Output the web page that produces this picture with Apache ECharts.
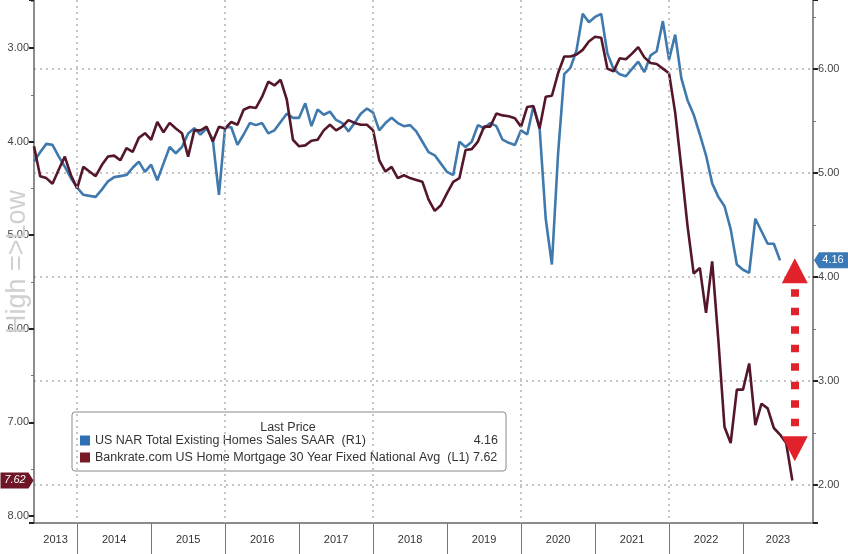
<!DOCTYPE html>
<html><head><meta charset="utf-8">
<script src="https://cdn.jsdelivr.net/npm/echarts@6/dist/echarts.min.js"></script>
<style>html,body{margin:0;padding:0;background:#fff}#c{width:848px;height:554px}</style>
</head><body><div id="c"></div>
<script>
// ---- data (monthly, first point June 2013) ----
const firstYear = 2013, firstMonth = 6;
const yearLabels = ['2013','2014','2015','2016','2017','2018','2019','2020','2021','2022','2023'];
const tickYears = [2014,2015,2016,2017,2018,2019,2020,2021,2022,2023];
const gridYears = [2014,2016,2018,2020,2022];
const blueName = 'US NAR Total Existing Homes Sales SAAR';
const maroonName = 'Bankrate.com US Home Mortgage 30 Year Fixed National Avg';
// Bankrate 30Y mortgage rate (left axis, inverted)
const mortgageRate = [
  4.05,4.37,4.39,4.45,4.30,4.16,4.36,
  4.50,4.27,4.32,4.37,4.25,4.16,4.15,4.20,4.07,4.11,3.96,3.91,
  3.98,3.79,3.90,3.80,3.86,3.91,4.16,3.88,3.88,3.84,4.00,3.84,
  3.86,3.79,3.82,3.66,3.63,3.64,3.52,3.36,3.40,3.34,3.55,3.98,
  4.05,4.04,3.99,3.98,3.88,3.82,3.88,3.84,3.77,3.80,3.82,3.82,
  3.88,4.20,4.32,4.27,4.39,4.36,4.39,4.41,4.43,4.62,4.74,4.68,
  4.55,4.43,4.39,4.09,4.08,4.00,3.84,3.84,3.70,3.72,3.73,3.75,
  3.84,3.63,3.62,3.86,3.52,3.51,3.27,3.09,3.09,3.07,3.02,2.93,
  2.88,2.89,3.22,3.25,3.11,3.12,3.06,2.99,3.10,3.16,3.17,3.22,
  3.27,3.69,4.28,4.90,5.41,5.35,5.83,5.28,6.12,7.05,7.22,6.65,
  6.65,6.37,7.03,6.80,6.85,7.06,7.13,7.22,7.62
];
// NAR existing home sales SAAR, millions (right axis)
const homeSales = [
  5.11,5.20,5.28,5.27,5.16,5.06,4.95,
  4.86,4.79,4.78,4.77,4.84,4.92,4.96,4.97,4.98,5.05,5.11,5.01,
  5.08,4.93,5.09,5.25,5.19,5.25,5.38,5.43,5.37,5.43,5.32,4.79,
  5.44,5.44,5.27,5.37,5.48,5.46,5.48,5.38,5.41,5.49,5.57,5.53,
  5.53,5.67,5.45,5.61,5.56,5.59,5.51,5.48,5.40,5.48,5.57,5.62,
  5.58,5.41,5.48,5.53,5.48,5.45,5.46,5.40,5.30,5.20,5.17,5.09,
  5.01,4.98,5.30,5.25,5.30,5.46,5.43,5.48,5.45,5.32,5.29,5.27,
  5.41,5.37,5.64,5.44,4.56,4.12,5.18,5.95,6.01,6.18,6.53,6.45,
  6.50,6.53,6.15,6.00,5.95,5.93,6.00,6.07,5.97,6.13,6.17,6.46,
  6.09,6.33,5.91,5.70,5.56,5.37,5.17,4.90,4.77,4.68,4.46,4.12,
  4.07,4.04,4.56,4.44,4.32,4.32,4.16
];
const lastHomeSales = 4.16;
const lastMortgage = 7.62;
// annotation arrow (right-axis units)
const arrowTime = 2023.70, arrowTop = 4.06, arrowBottom = 2.35;

// ---- build ----
const x0 = firstYear + (firstMonth - 1) / 12;
const toPairs = arr => arr.map((v, i) => [x0 + i / 12, v]);
const xMin = x0, xMax = 2023.946;
const labelPos = yearLabels.map((y, i) => {
  const a = Math.max(+y, xMin), b = Math.min(+y + 1, xMax);
  return (a + b) / 2;
});
const FONT = "'Liberation Sans', Arial, sans-serif";
const dotted = { color: '#b3b3b3', width: 1.5, type: [2, 4] };
const isInt = v => Math.abs(v - Math.round(v)) < 1e-6;

const chart = echarts.init(document.getElementById('c'));
chart.setOption({
  animation: false,
  backgroundColor: '#fff',
  textStyle: { fontFamily: FONT },
  grid: { left: 34, right: 35, top: 0, bottom: 31 },
  legend: {
    left: 72, top: 412, orient: 'vertical',
    data: [
      { name: blueName, itemStyle: { color: '#2f70b5' } },
      { name: maroonName, itemStyle: { color: '#761b26' } }
    ],
    icon: 'rect', itemWidth: 10, itemHeight: 10, itemGap: 2,
    padding: [21, 8, 6, 8],
    backgroundColor: '#fff', borderColor: '#8a8a8a', borderWidth: 1, borderRadius: 3,
    selectedMode: false,
    formatter: name => name === blueName
      ? '{n|' + name + '  (R1)}{v|' + lastHomeSales.toFixed(2) + '}'
      : '{m|' + name + '  (L1) ' + lastMortgage.toFixed(2) + '}',
    textStyle: {
      fontFamily: FONT, fontSize: 12.5, color: '#333', lineHeight: 15,
      rich: {
        n: { width: 378, fontSize: 12.5, color: '#333' },
        v: { width: 25, align: 'right', fontSize: 12.5, color: '#333' },
        m: { fontSize: 12.5, color: '#333' }
      }
    }
  },
  graphic: [
    { type: 'text', x: 288, y: 428, z: 100, style: { text: 'Last Price', fill: '#333', font: '12.5px ' + FONT, textAlign: 'center', textVerticalAlign: 'middle' } },
    { type: 'text', x: 18, y: 262, rotation: Math.PI / 2, z: 100, style: { text: 'High =>Low', fill: '#d0d0d0', font: '27px ' + FONT, textAlign: 'center', textVerticalAlign: 'middle' } }
  ],
  xAxis: {
    type: 'value', min: xMin, max: xMax,
    axisLine: { show: true, lineStyle: { color: '#666', width: 1.5 } },
    axisTick: { show: true, customValues: tickYears, length: 31, lineStyle: { color: '#777', width: 1 } },
    axisLabel: { customValues: labelPos, formatter: v => String(Math.floor(v + 1e-6)), margin: 11, color: '#333', fontSize: 11, fontFamily: FONT },
    splitLine: { show: false }
  },
  yAxis: [
    {
      type: 'value', position: 'left', inverse: true, min: 2.487, max: 8.075,
      axisLine: { show: true, onZero: false, lineStyle: { color: '#666', width: 1.5 } },
      axisTick: { show: true, length: 5, lineStyle: { color: '#222', width: 2 } },
      minorTick: { show: true, splitNumber: 2, length: 3, lineStyle: { color: '#777' } },
      axisLabel: { formatter: v => isInt(v) ? v.toFixed(2) : '', margin: 5, color: '#444', fontSize: 11, fontFamily: FONT },
      splitLine: { show: false }
    },
    {
      type: 'value', position: 'right', min: 1.635, max: 6.663,
      axisLine: { show: true, onZero: false, lineStyle: { color: '#666', width: 1.5 } },
      axisTick: { show: true, length: 5, lineStyle: { color: '#222', width: 2 } },
      minorTick: { show: true, splitNumber: 2, length: 3, lineStyle: { color: '#777' } },
      axisLabel: { formatter: v => isInt(v) ? v.toFixed(2) : '', margin: 5, color: '#444', fontSize: 11, fontFamily: FONT },
      splitLine: { show: true, showMinLine: false, showMaxLine: false, lineStyle: dotted }
    }
  ],
  series: [
    {
      name: 'grid', type: 'line', data: [], z: 1, silent: true,
      markLine: { silent: true, symbol: 'none', label: { show: false }, lineStyle: dotted, data: gridYears.map(y => ({ xAxis: y })) }
    },
    {
      name: blueName, type: 'line', yAxisIndex: 1, data: toPairs(homeSales), showSymbol: false, z: 3,
      lineStyle: { color: '#3f79ad', width: 2.6 }, itemStyle: { color: '#3f79ad' },
      markPoint: {
        silent: true,
        data: [{ coord: [xMax, lastHomeSales], symbol: 'path://M5,0 L34,0 L34,16 L5,16 L0,8 Z', symbolSize: [34, 16], symbolOffset: [18, 0],
          itemStyle: { color: '#3b78b6' }, label: { show: true, formatter: lastHomeSales.toFixed(2), color: '#fff', fontSize: 11, offset: [2, 0] } }]
      }
    },
    {
      name: maroonName, type: 'line', yAxisIndex: 0, data: toPairs(mortgageRate), showSymbol: false, z: 4,
      lineStyle: { color: '#54172a', width: 2.6 }, itemStyle: { color: '#54172a' },
      markPoint: {
        silent: true,
        data: [{ coord: [xMin, lastMortgage], symbol: 'path://M0,0 L28,0 L33,8 L28,16 L0,16 Z', symbolSize: [33, 16], symbolOffset: [-17, 0],
          itemStyle: { color: '#6e1626' }, label: { show: true, formatter: lastMortgage.toFixed(2), color: '#fff', fontSize: 11, fontStyle: 'italic', offset: [-2, 0] } }]
      }
    },
    {
      name: 'arrow', type: 'line', yAxisIndex: 1, data: [], z: 6, silent: true,
      markLine: {
        silent: true, label: { show: false },
        lineStyle: { color: '#e1222b', width: 8, type: [7.5, 11] },
        data: [[
          { coord: [arrowTime, arrowTop], symbol: 'triangle', symbolSize: [26, 25] },
          { coord: [arrowTime, arrowBottom], symbol: 'triangle', symbolSize: [26, 25] }
        ]]
      }
    }
  ]
});
</script></body></html>
